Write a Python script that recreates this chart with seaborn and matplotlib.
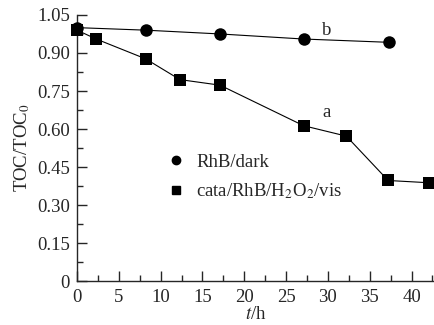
import numpy as np
import pandas as pd
import matplotlib.pyplot as plt
import seaborn as sns
from matplotlib.lines import Line2D
from matplotlib.ticker import MultipleLocator

# values
t_dark = [0, 8.2, 17.1, 27.1, 37.3]
toc_dark = [1.0, 0.99, 0.975, 0.955, 0.942]

t_vis = [0, 2.3, 8.2, 12.3, 17.1, 27.1, 32.2, 37.2, 42.1]
toc_vis = [0.99, 0.955, 0.877, 0.795, 0.773, 0.613, 0.572, 0.397, 0.388]

labels = ['RhB/dark', 'cata/RhB/H$_2$O$_2$/vis']

sns.set_style('ticks')
plt.rcParams['font.family'] = ['Liberation Serif', 'DejaVu Serif']
plt.rcParams['mathtext.fontset'] = 'stix'

fig = plt.figure(figsize=(4.35, 3.25), dpi=100)
ax = fig.add_axes([0.177, 0.135, 0.823, 0.819])

df_dark = pd.DataFrame({'t': t_dark, 'toc': toc_dark})
df_vis = pd.DataFrame({'t': t_vis, 'toc': toc_vis})

sns.lineplot(data=df_dark, x='t', y='toc', ax=ax, color='black', lw=0.8,
             marker='o', markersize=9, markeredgewidth=0, clip_on=False, zorder=3)
sns.lineplot(data=df_vis, x='t', y='toc', ax=ax, color='black', lw=0.8,
             marker='s', markersize=8.5, markeredgewidth=0, clip_on=False, zorder=3)

ax.text(29.8, 0.99, 'b', fontsize=13.5, ha='center', va='center')
ax.text(29.8, 0.665, 'a', fontsize=13.5, ha='center', va='center')

handles = [Line2D([], [], color='black', marker='o', ls='none', markersize=6),
           Line2D([], [], color='black', marker='s', ls='none', markersize=6)]
ax.legend(handles, labels, loc='center left', bbox_to_anchor=(0.255, 0.39),
          frameon=False, fontsize=13.5, handlelength=0.8, handletextpad=0.7,
          labelspacing=0.55, borderpad=0, borderaxespad=0)

ax.set_xlim(0, 42.8)
ax.set_ylim(0, 1.05)
ax.xaxis.set_major_locator(MultipleLocator(5))
ax.xaxis.set_minor_locator(MultipleLocator(2.5))
ax.yaxis.set_minor_locator(MultipleLocator(0.075))
ax.set_yticks([0, 0.15, 0.30, 0.45, 0.60, 0.75, 0.90, 1.05])
ax.set_yticklabels(['0', '0.15', '0.30', '0.45', '0.60', '0.75', '0.90', '1.05'])

ax.tick_params(which='major', direction='in', length=7, width=1, labelsize=13.5)
ax.tick_params(axis='x', which='major', pad=6)
ax.tick_params(axis='y', which='major', pad=5)
ax.tick_params(which='minor', direction='in', length=4, width=1)
sns.despine(ax=ax)
for s in ['left', 'bottom']:
    ax.spines[s].set_linewidth(1)

ax.set_xlabel('$t$/h', fontsize=13.5, labelpad=0)
ax.set_ylabel('TOC/TOC$_0$', fontsize=13.5, labelpad=4)

fig.savefig('out.png', dpi=100)
